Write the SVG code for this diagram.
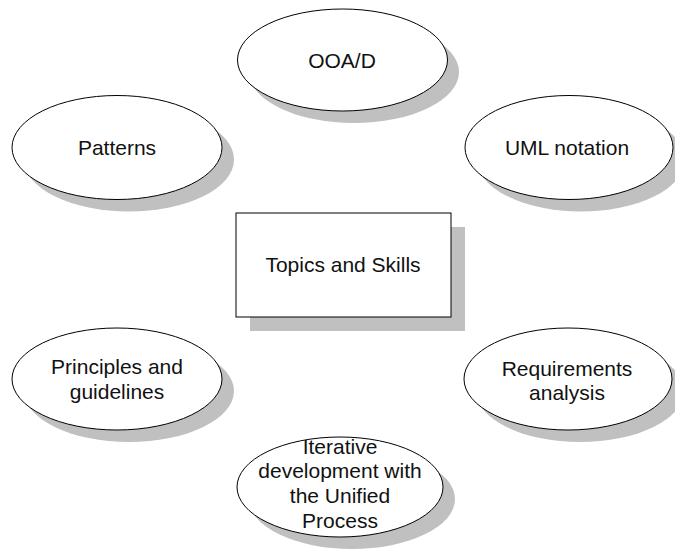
<svg xmlns="http://www.w3.org/2000/svg" width="675" height="549" viewBox="0 0 675 549">
<style>
.sh{fill:#c0c0c0;stroke:none}
.nd{fill:#ffffff;stroke:#000000;stroke-width:1}
.t{font-family:"Liberation Sans",Arial,sans-serif;font-size:21px;fill:#111111;text-anchor:middle}
</style>
<rect width="675" height="549" fill="#ffffff"/>
<g id="connectors"></g>
<g id="ooad">
<ellipse class="sh" cx="354" cy="72" rx="105" ry="51"/>
<ellipse class="nd" cx="342.5" cy="60" rx="105" ry="51"/>
<text class="t" x="342" y="67.5">OOA/D</text>
</g>
<g id="patterns">
<ellipse class="sh" cx="129" cy="159.5" rx="105" ry="52"/>
<ellipse class="nd" cx="117" cy="147.5" rx="105" ry="52"/>
<text class="t" x="117" y="155">Patterns</text>
</g>
<g id="uml">
<ellipse class="sh" cx="581" cy="159.5" rx="104" ry="52"/>
<ellipse class="nd" cx="569" cy="147.5" rx="104" ry="52"/>
<text class="t" x="567" y="155">UML notation</text>
</g>
<g id="topics">
<rect class="sh" x="250" y="227" width="215" height="104"/>
<rect class="nd" x="236" y="213" width="215" height="104"/>
<text class="t" x="343" y="272">Topics and Skills</text>
</g>
<g id="principles">
<ellipse class="sh" cx="129" cy="391" rx="105" ry="51"/>
<ellipse class="nd" cx="117" cy="379" rx="105" ry="51"/>
<text class="t" x="117" y="374">Principles and</text>
<text class="t" x="117" y="398.5">guidelines</text>
</g>
<g id="requirements">
<ellipse class="sh" cx="580" cy="391" rx="104" ry="51"/>
<ellipse class="nd" cx="568" cy="379" rx="104" ry="51"/>
<text class="t" x="567" y="376">Requirements</text>
<text class="t" x="567" y="400">analysis</text>
</g>
<g id="iterative">
<ellipse class="sh" cx="352" cy="499" rx="103" ry="50"/>
<ellipse class="nd" cx="340" cy="487" rx="103" ry="50"/>
<text class="t" x="340" y="453.5">Iterative</text>
<text class="t" x="340" y="478">development with</text>
<text class="t" x="340" y="503">the Unified</text>
<text class="t" x="340" y="527.5">Process</text>
</g>
</svg>
